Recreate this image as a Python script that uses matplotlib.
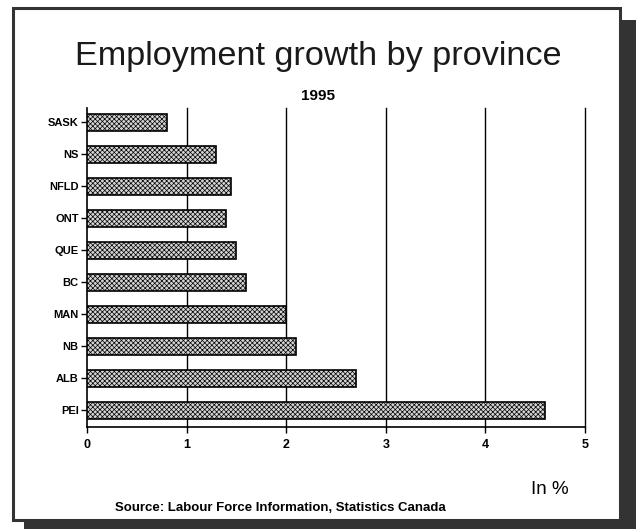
import matplotlib
matplotlib.use("Agg")
import matplotlib.pyplot as plt
from matplotlib.patches import Rectangle

provinces = ["SASK", "NS", "NFLD", "ONT", "QUE", "BC", "MAN", "NB", "ALB", "PEI"]
growth = [0.8, 1.3, 1.45, 1.4, 1.5, 1.6, 2.0, 2.1, 2.7, 4.6]
xticks = [0, 1, 2, 3, 4, 5]

plt.rcParams['font.family'] = ['Liberation Sans', 'DejaVu Sans']
plt.rcParams['hatch.color'] = '#555555'
plt.rcParams['hatch.linewidth'] = 0.5

W, H = 637, 529
fig = plt.figure(figsize=(W / 100, H / 100), dpi=100)

def fx(px):
    return px / W

def fy(py):
    return 1 - py / H

# shadow and frame
fig.patches.append(Rectangle((fx(24), fy(529)), fx(636) - fx(24), fy(20) - fy(529),
                             transform=fig.transFigure, facecolor='#333333', edgecolor='none', zorder=-3))
fig.patches.append(Rectangle((fx(13), fy(520)), fx(620) - fx(13), fy(8) - fy(520),
                             transform=fig.transFigure, facecolor='white', edgecolor='#333333',
                             linewidth=2.2, zorder=-2))

ax = fig.add_axes([fx(87), fy(427), fx(585) - fx(87), fy(108) - fy(427)])
ax.set_zorder(2)
ax.set_facecolor('none')
ypos = list(range(len(provinces)))
ax.barh(ypos, growth, height=0.53, color='#d4d4d4', edgecolor='black', linewidth=1.2,
        hatch='xxxxxxx', zorder=3)
ax.set_yticks(ypos)
ax.set_yticklabels(provinces, fontsize=8, fontweight='bold')
ax.set_ylim(9.52, -0.45)
ax.set_xlim(0, 5)
ax.set_xticks(xticks)
ax.set_xticklabels([str(t) for t in xticks], fontsize=9, fontweight='bold')
for t in xticks[1:]:
    ax.axvline(t, color='black', linewidth=1.0, zorder=2, clip_on=False)
for s in ['top', 'right']:
    ax.spines[s].set_visible(False)
ax.spines['left'].set_linewidth(1.2)
ax.spines['bottom'].set_linewidth(1.2)
ax.tick_params(axis='y', length=4, width=1, pad=2)
ax.tick_params(axis='x', length=4, width=1, pad=5)

fig.text(fx(318), fy(56), "Employment growth by province", fontsize=24.7, ha='center', va='center',
         color='#1a1a1a')
fig.text(fx(318), fy(96), "1995", fontsize=11, fontweight='bold', ha='center', va='center')
fig.text(fx(550), fy(490), "In %", fontsize=13.5, ha='center', va='center')
fig.text(fx(280), fy(508), "Source: Labour Force Information, Statistics Canada", fontsize=9.5,
         fontweight='bold', ha='center', va='center')

fig.savefig("out.png", dpi=100)
